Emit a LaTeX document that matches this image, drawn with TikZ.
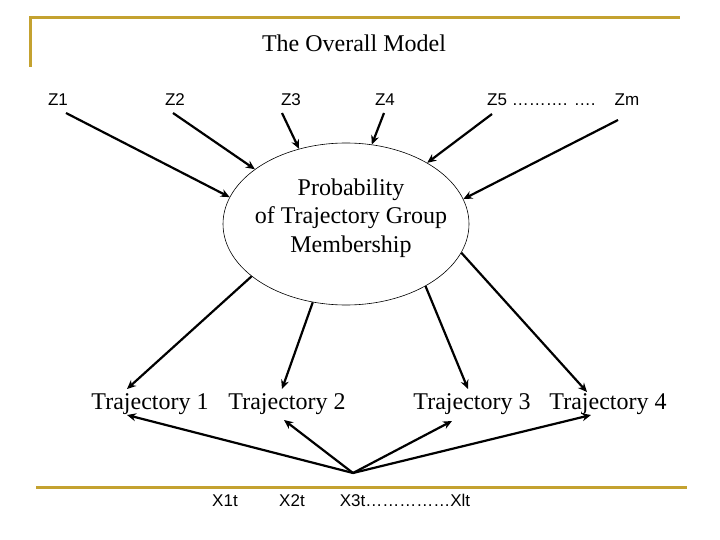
\documentclass[tikz,border=0pt]{standalone}
\usepackage{fontspec}
\setmainfont{Liberation Serif}
\newfontfamily\arialf{Liberation Sans}
\usetikzlibrary{shapes.geometric,arrows.meta}
\definecolor{gold}{RGB}{196,162,48}
\begin{document}
\begin{tikzpicture}[x=1pt,y=-1pt,
  serif/.style={font=\fontsize{24}{28.5}\selectfont, inner sep=0pt},
  sans/.style={font=\arialf\fontsize{17}{20}\selectfont, inner sep=0pt},
  arr/.style={line width=2.2pt,-{Stealth[length=9pt,width=8pt]}},
  rule/.style={draw=gold,line width=3pt}]
\useasboundingbox (0,0) rectangle (720,540);
% frame rules
\draw[rule] (30,67) -- (30,18) -- (680,18);
\draw[rule] (36,487) -- (687,487);
% title
\node[serif] (title) at (354,43) {The Overall Model};
% Z labels
\node[sans,anchor=base] (z1) at (58,106) {Z1};
\node[sans,anchor=base] (z2) at (175,106) {Z2};
\node[sans,anchor=base] (z3) at (291,106) {Z3};
\node[sans,anchor=base] (z4) at (385,106) {Z4};
\node[sans,anchor=base west] (z5) at (487,106) {Z5 ………. ….};
\node[sans,anchor=base] (zm) at (627,106) {Zm};
% ellipse
\node[draw,ellipse,line width=0.6pt,minimum width=246pt,minimum height=162pt,inner sep=0pt] (prob) at (346,224) {};
\node[serif,align=center] (probtxt) at (351,218) {Probability\\of Trajectory Group\\Membership};
% trajectories
\node[serif] (t1) at (150,404) {Trajectory 1};
\node[serif] (t2) at (287,404) {Trajectory 2};
\node[serif] (t3) at (472,404) {Trajectory 3};
\node[serif] (t4) at (608,404) {Trajectory 4};
% X labels
\node[sans,anchor=base] (x1) at (225,506) {X1t};
\node[sans,anchor=base] (x2) at (292,506) {X2t};
\node[sans,anchor=base] (x3) at (405,506) {X3t……………Xlt};
\coordinate (src) at (353,473);
% Z arrows
\draw[arr] ([xshift=8pt,yshift=-7pt]z1.base) -- (prob.167);
\draw[arr] ([xshift=-2pt,yshift=-7pt]z2.base) -- (prob.149);
\draw[arr] ([xshift=-9pt,yshift=-7pt]z3.base) -- (prob.122);
\draw[arr] ([xshift=-1pt,yshift=-7pt]z4.base) -- (prob.72);
\draw[arr] ([xshift=5pt,yshift=-8pt]z5.base west) -- (prob.37);
\draw[arr] ([xshift=-9pt,yshift=-14pt]zm.base) -- (prob.12.5);
% to trajectories
\draw[arr] (prob.209) -- ([xshift=-23pt,yshift=15pt]t1.center);
\draw[arr] (prob.247.5) -- ([xshift=-5pt,yshift=15pt]t2.center);
\draw[arr] (prob.322) -- ([xshift=-4pt,yshift=15pt]t3.center);
\draw[arr] (prob.346.5) -- ([xshift=-21pt,yshift=12pt]t4.center);
% from X
\draw[arr] (src) -- ([xshift=-23pt,yshift=-11pt]t1.center);
\draw[arr] (src) -- ([xshift=-3pt,yshift=-16pt]t2.center);
\draw[arr] (src) -- ([xshift=-20pt,yshift=-17pt]t3.center);
\draw[arr] (src) -- ([xshift=-17pt,yshift=-11pt]t4.center);
\end{tikzpicture}
\end{document}
